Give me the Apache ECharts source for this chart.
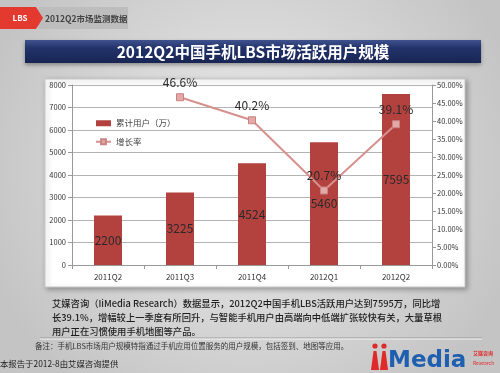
<!DOCTYPE html>
<html><head><meta charset="utf-8">
<script src="https://cdn.jsdelivr.net/npm/echarts@6/dist/echarts.min.js"></script>
<style>html,body{margin:0;padding:0;background:#ddd}#c{width:500px;height:373px}</style>
</head><body><div id="c"></div>
<script>
const categories = ['2011Q2','2011Q3','2011Q4','2012Q1','2012Q2'];
const users = [2200, 3225, 4524, 5460, 7595];
const growth = [null, 46.6, 40.2, 20.7, 39.1];
const seriesNames = ['累计用户（万）', '增长率'];
const titleText = '2012Q2中国手机LBS市场活跃用户规模';
const tagText = 'LBS';
const sectionText = '2012Q2市场监测数据';
const bodyLines = [
  '艾媒咨询（IiMedia Research）数据显示，2012Q2中国手机LBS活跃用户达到7595万，同比增',
  '长39.1%，增幅较上一季度有所回升，与智能手机用户由高端向中低端扩张较快有关，大量草根',
  '用户正在习惯使用手机地图等产品。'
];
const noteText = '备注：手机LBS市场用户规模特指通过手机应用位置服务的用户规模，包括签到、地图等应用。';
const sourceText = '本报告于2012-8由艾媒咨询提供';

const FONT = '"Noto Sans CJK SC", "Noto Sans", sans-serif';
const chart = echarts.init(document.getElementById('c'), null, {renderer: 'canvas'});

const graphics = [
  {type:'rect', z:-10, shape:{x:0,y:0,width:500,height:373},
   style:{fill:{type:'radial',x:0.5,y:0.45,r:0.75,colorStops:[{offset:0,color:'#ececec'},{offset:1,color:'#c4c4c4'}]}}},
  {type:'rect', z:-9, shape:{x:38,y:7,width:90,height:22}, style:{fill:'#bdbdbd'}},
  {type:'polygon', z:-9, shape:{points:[[0,7],[36,7],[43,18],[36,29],[0,29]]}, style:{fill:'#e3392e'}},
  {type:'text', z:-8, style:{x:20,y:18,text:tagText,fill:'#fff',font:'bold 8px '+FONT,textAlign:'center',textVerticalAlign:'middle'}},
  {type:'text', z:-8, style:{x:45,y:18.5,text:sectionText,fill:'#444',font:'bold 8.5px '+FONT,textVerticalAlign:'middle'}},
  {type:'rect', z:-9, shape:{x:25,y:40,width:456,height:23},
   style:{fill:{type:'linear',x:0,y:0,x2:0,y2:1,colorStops:[{offset:0,color:'#40528e'},{offset:0.35,color:'#22336b'},{offset:1,color:'#182553'}]},
          shadowBlur:4,shadowColor:'rgba(0,0,0,0.35)',shadowOffsetY:2}},
  {type:'text', z:-8, style:{x:253,y:52,text:titleText,fill:'#fff',font:'bold 15.5px '+FONT,textAlign:'center',textVerticalAlign:'middle'}},
  {type:'rect', z:-9, shape:{x:45,y:79,width:420,height:208},
   style:{fill:'#fff',stroke:'#c8c8c8',lineWidth:1,shadowBlur:5,shadowColor:'rgba(0,0,0,0.3)',shadowOffsetX:2,shadowOffsetY:2}},
  {type:'line', z:-8, shape:{x1:40,y1:338,x2:482,y2:338}, style:{stroke:'#9a9a9a',lineWidth:1}},
  {type:'line', z:-8, shape:{x1:40,y1:339,x2:482,y2:339}, style:{stroke:'#f4f4f4',lineWidth:1}},
  {type:'text', z:-8, style:{x:35,y:346,text:noteText,fill:'#333',font:'7.5px '+FONT,textVerticalAlign:'middle'}},
  {type:'text', z:-8, style:{x:0,y:364,text:sourceText,fill:'#222',font:'8.4px '+FONT,textVerticalAlign:'middle'}},
  {type:'circle', z:-8, shape:{cx:375,cy:346,r:2.6}, style:{fill:'#e02a2a'}},
  {type:'circle', z:-8, shape:{cx:384,cy:346,r:2.6}, style:{fill:'#e02a2a'}},
  {type:'polygon', z:-8, shape:{points:[[373.5,351],[376.5,351],[379,370],[371,370]]}, style:{fill:'#e02a2a'}},
  {type:'polygon', z:-8, shape:{points:[[382.5,351],[385.5,351],[388,370],[380,370]]}, style:{fill:'#e02a2a'}},
  {type:'text', z:-8, style:{x:388,y:361,text:'Media',fill:'#1f5fb0',font:'bold 23px "DejaVu Sans", sans-serif',textVerticalAlign:'middle'}},
  {type:'text', z:-8, style:{x:473,y:353,text:'艾媒咨询',fill:'#e02a2a',font:'bold 5px '+FONT,textVerticalAlign:'middle'}},
  {type:'text', z:-8, style:{x:473,y:363,text:'Research',fill:'#e02a2a',font:'5px '+FONT,textVerticalAlign:'middle'}}
];
bodyLines.forEach((t, i) => {
  graphics.push({type:'text', z:-8, style:{x:52,y:303+i*14,text:t,fill:'#1e1e1e',font:'500 9.3px '+FONT,textVerticalAlign:'middle'}});
});

chart.setOption({
  animation:false,
  textStyle:{fontFamily:FONT},
  graphic:graphics,
  grid:{left:72,right:68,top:85,bottom:108},
  legend:{
    orient:'vertical', left:90, top:114, itemGap:10, itemWidth:15, itemHeight:6,
    textStyle:{fontSize:8.5,color:'#444',fontFamily:FONT},
    data:[{name:seriesNames[0],icon:'rect'},{name:seriesNames[1]}]
  },
  xAxis:{
    type:'category', data:categories,
    axisLine:{lineStyle:{color:'#999'}},
    axisTick:{show:true,length:4,lineStyle:{color:'#999'}},
    axisLabel:{fontSize:8,color:'#333',margin:8}
  },
  yAxis:[
    {type:'value', min:0, max:8000, interval:1000, position:'left',
     axisLine:{show:true,lineStyle:{color:'#999'}},
     axisTick:{show:true,length:4,lineStyle:{color:'#999'}},
     axisLabel:{fontSize:7.5,color:'#333',margin:6,formatter:v=>String(v)},
     splitLine:{lineStyle:{color:'#b4b4b4'}}},
    {type:'value', min:0, max:50, interval:5, position:'right',
     axisLine:{show:true,lineStyle:{color:'#999'}},
     axisTick:{show:true,length:4,lineStyle:{color:'#999'}},
     axisLabel:{fontSize:7.5,color:'#333',margin:5,formatter:v=>v.toFixed(2)+'%'},
     splitLine:{show:false}}
  ],
  series:[
    {name:seriesNames[0], type:'bar', data:users, barWidth:28, yAxisIndex:0,
     itemStyle:{color:'#b3423f'},
     label:{show:true,position:'inside',color:'#2a2a2a',fontSize:12,fontFamily:FONT}},
    {name:seriesNames[1], type:'line', data:growth, yAxisIndex:1,
     symbol:'rect', symbolSize:7,
     lineStyle:{color:'#d6908e',width:2},
     itemStyle:{color:'#e2a9a7',borderColor:'#c98382',borderWidth:1},
     label:{show:true,position:'top',distance:5,color:'#2a2a2a',fontSize:12,fontFamily:FONT,formatter:p=>p.value+'%'},
     z:3}
  ]
});
</script></body></html>
